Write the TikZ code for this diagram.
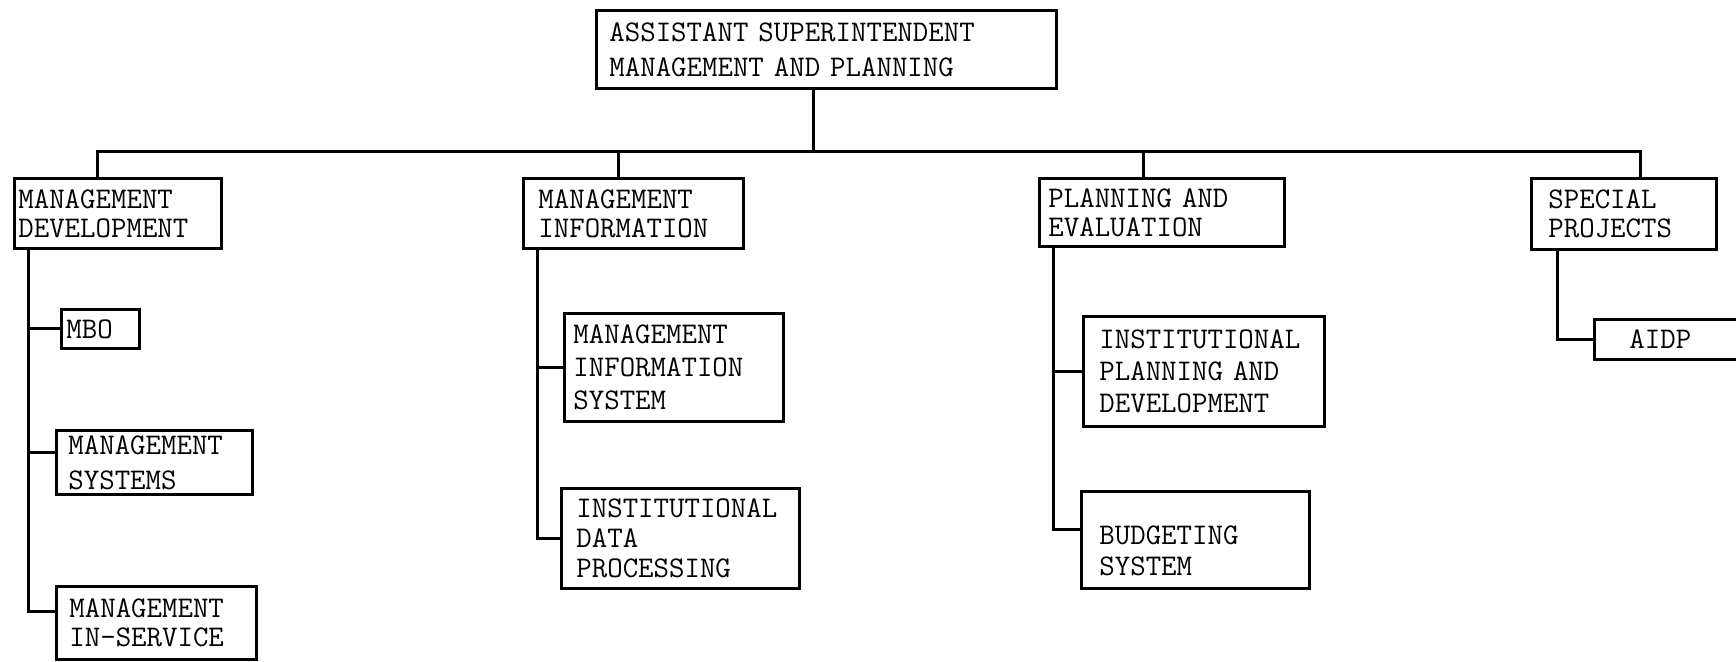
\documentclass[tikz,border=0pt]{standalone}
\usepackage{fontspec}
\begin{document}
\begin{tikzpicture}[x=1pt,y=-1pt,
  box/.style={draw, line width=2.8pt, align=left, anchor=north west, inner ysep=0pt,
    font=\ttfamily\fontsize{30}{#1}\selectfont},
  conn/.style={draw, line width=3pt, line join=miter}]
\useasboundingbox (0,0) rectangle (1736,661);
% boxes
\node[box=35, inner xsep=13pt, text width=434pt, minimum width=460pt, minimum height=78pt] (top) at (595,9)
  {ASSISTANT SUPERINTENDENT\\MANAGEMENT AND PLANNING};
\node[box=29, inner xsep=4pt, text width=199pt, minimum width=207pt, minimum height=70pt] (md) at (13,177)
  {MANAGEMENT\\DEVELOPMENT};
\node[box=29, inner xsep=15pt, text width=190pt, minimum width=220pt, minimum height=70pt] (mi) at (522,177)
  {MANAGEMENT\\INFORMATION};
\node[box=29, inner xsep=9pt, text width=227pt, minimum width=245pt, minimum height=68pt] (pe) at (1038,177)
  {PLANNING AND\\EVALUATION};
\node[box=29, inner xsep=17pt, text width=151pt, minimum width=185pt, minimum height=71pt] (sp) at (1530,177)
  {SPECIAL\\PROJECTS};
\node[box=30, inner xsep=5pt, text width=68pt, minimum width=78pt, minimum height=39pt] (mbo) at (60,308)
  {MBO};
\node[box=35, inner xsep=12pt, text width=172pt, minimum width=196pt, minimum height=64pt] (ms) at (55,429)
  {MANAGEMENT\\SYSTEMS};
\node[box=29, inner xsep=13pt, text width=174pt, minimum width=200pt, minimum height=73pt] (mins) at (55,585)
  {MANAGEMENT\\IN-SERVICE};
\node[box=33, inner xsep=9pt, text width=201pt, minimum width=219pt, minimum height=108pt] (mis) at (563,312)
  {MANAGEMENT\\INFORMATION\\SYSTEM};
\node[box=30, inner xsep=15pt, text width=208pt, minimum width=238pt, minimum height=100pt] (idp) at (560,487)
  {INSTITUTIONAL\\DATA\\PROCESSING};
\node[box=32, inner xsep=16pt, text width=209pt, minimum width=241pt, minimum height=110pt] (ipd) at (1082,315)
  {INSTITUTIONAL\\PLANNING AND\\DEVELOPMENT};
\node[box=31, inner xsep=18pt, text width=192pt, minimum width=228pt, minimum height=97pt] (bud) at (1080,490)
  {\rule{0pt}{40pt}BUDGETING\\SYSTEM};
\node[box=30, inner xsep=35pt, text width=110pt, minimum width=180pt, minimum height=40pt] (aidp) at (1593,318)
  {AIDP};
% junctions
\coordinate (jtop) at (813,151);
\coordinate (bL) at (97,151);
\coordinate (bR) at (1640,151);
\coordinate (jmi) at (618,151);
\coordinate (jpe) at (1143,151);
\coordinate (tmd) at (28,0);
\coordinate (tmi) at (537,0);
\coordinate (tpe) at (1053,0);
\coordinate (tsp) at (1557,0);
\coordinate (ms-in) at ([yshift=10pt]ms.west);
\coordinate (mins-in) at ([yshift=11pt]mins.west);
\coordinate (bud-in) at ([yshift=10pt]bud.west);
% connectors
\draw[conn] (jtop |- top.south) -- (jtop);
\draw[conn] (md.north -| bL) -- (bL) -- (bR) -- (sp.north -| bR);
\draw[conn] (jmi) -- (mi.north -| jmi);
\draw[conn] (jpe) -- (pe.north -| jpe);
\draw[conn] (tmd |- md.south) |- (mins-in);
\draw[conn] (tmd |- mbo.west) -- (mbo.west);
\draw[conn] (tmd |- ms-in) -- (ms-in);
\draw[conn] (tmi |- mi.south) |- (idp.west);
\draw[conn] (tmi |- mis.west) -- (mis.west);
\draw[conn] (tpe |- pe.south) |- (bud-in);
\draw[conn] (tpe |- ipd.west) -- (ipd.west);
\draw[conn] (tsp |- sp.south) |- (aidp.west);
\end{tikzpicture}
\end{document}
